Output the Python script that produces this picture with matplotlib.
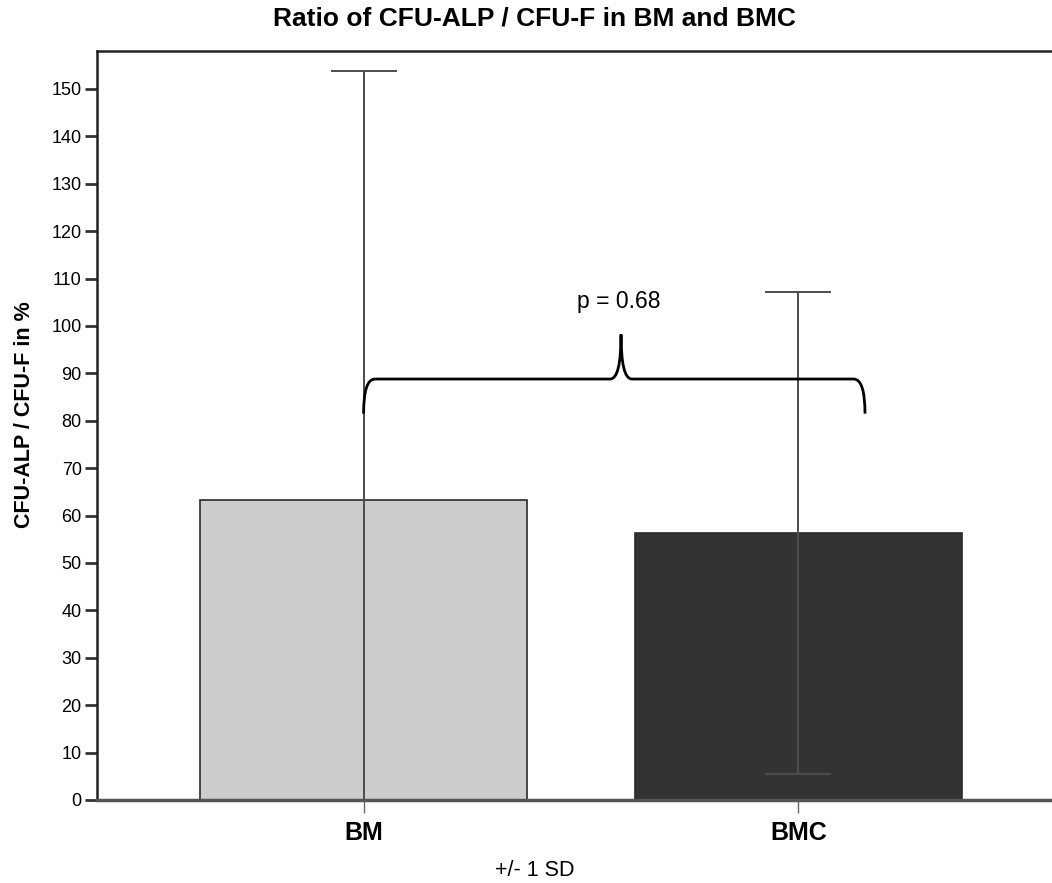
import matplotlib.pyplot as plt
from matplotlib.path import Path
from matplotlib.patches import PathPatch
import numpy as np

plt.rcParams['font.family'] = ['Liberation Sans', 'DejaVu Sans']

# Data
groups = ['BM', 'BMC']
means = [63.3, 56.3]
sds = [90.5, 50.9]
bar_colors = ['#cccccc', '#333333']
p_text = 'p = 0.68'

fig = plt.figure(figsize=(10.52, 8.83), dpi=100)
ax = fig.add_axes([97 / 1052, 1 - 800 / 883, (1052 - 97) / 1052, (800 - 51) / 883])

x = np.arange(len(groups))
ax.bar(x, means, width=0.752, color=bar_colors, edgecolor='#2a2a2a', linewidth=1.2, zorder=2)
ax.errorbar(x, means, yerr=sds, fmt='none', ecolor='#4d4d4d', elinewidth=1.4,
            capsize=24, capthick=1.4, zorder=3)

# brace between the groups
bx0, bx1 = 0.0, 1.153
ymid, yend, ypeak = 88.8, 81.5, 98.2
xpk = 0.592
verts = [(bx0, yend), (bx0, ymid), (bx0 + 0.026, ymid),
         (xpk - 0.025, ymid),
         (xpk, ymid), (xpk, ypeak),
         (xpk, ymid), (xpk + 0.025, ymid),
         (bx1 - 0.026, ymid),
         (bx1, ymid), (bx1, yend)]
codes = [Path.MOVETO, Path.CURVE3, Path.CURVE3,
         Path.LINETO,
         Path.CURVE3, Path.CURVE3,
         Path.CURVE3, Path.CURVE3,
         Path.LINETO,
         Path.CURVE3, Path.CURVE3]
ax.add_patch(PathPatch(Path(verts, codes), facecolor='none', edgecolor='black', linewidth=2, zorder=4))
ax.text(xpk - 0.005, 103.8, p_text, ha='center', va='baseline', fontsize=16.5)

ax.set_xlim(-0.613, 1.583)
ax.set_ylim(0, 158)
ax.set_yticks(np.arange(0, 151, 10))
ax.set_xticks(x)
ax.set_xticklabels(groups, fontsize=18, fontweight='bold')
ax.tick_params(axis='x', length=9, width=1, color='#666666', pad=6)
ax.tick_params(axis='y', length=9, width=2, labelsize=13, color='#333333', pad=2)

for side in ['left', 'top']:
    ax.spines[side].set_linewidth(1.8)
    ax.spines[side].set_color('#222222')
ax.spines['bottom'].set_linewidth(2.5)
ax.spines['bottom'].set_color('#555555')
ax.spines['right'].set_visible(False)

ax.set_ylabel('CFU-ALP / CFU-F in %', fontsize=15.5, fontweight='bold')
ax.yaxis.set_label_coords(-62 / 955, 0.515)
fig.text(535 / 1052, 1 - 871 / 883, '+/- 1 SD', ha='center', va='center', fontsize=15.5)
fig.text(534 / 1052, 1 - 18 / 883, 'Ratio of CFU-ALP / CFU-F in BM and BMC', ha='center',
         va='center', fontsize=19, fontweight='bold')

fig.savefig('out.png', dpi=100)
